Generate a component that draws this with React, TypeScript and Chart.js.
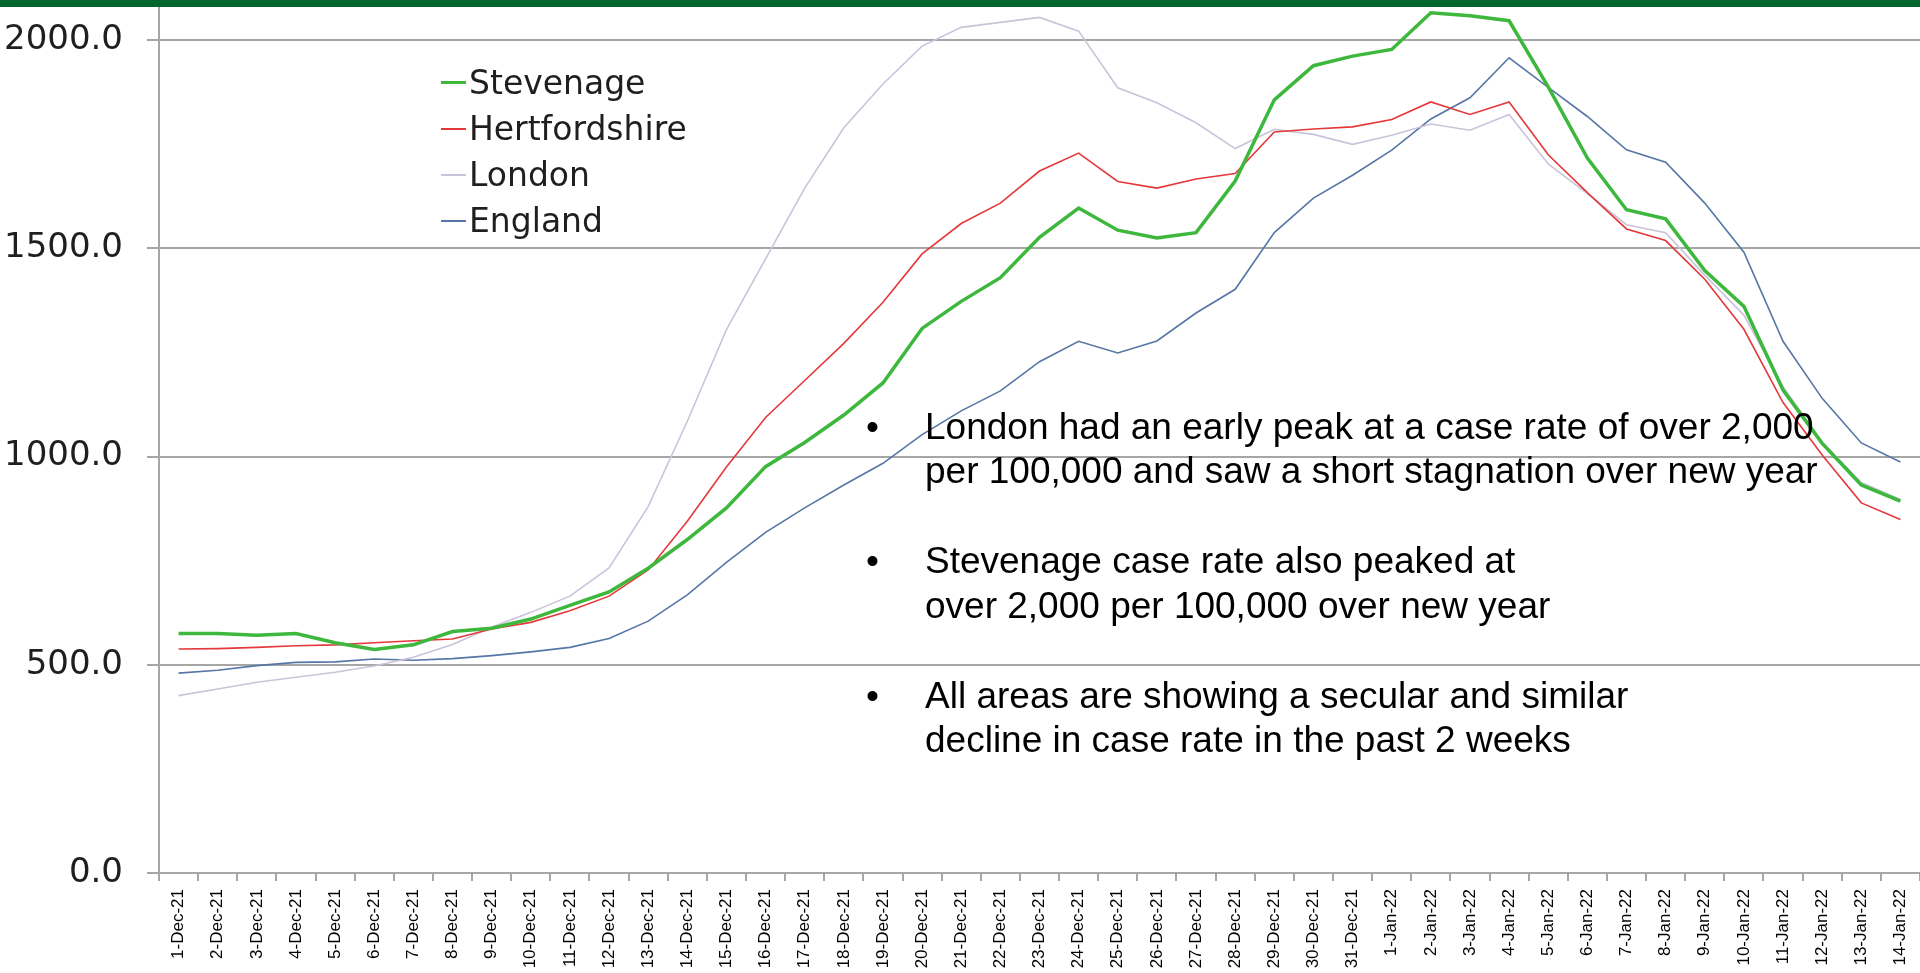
import React, { useEffect, useRef } from "react";
import { Chart, registerables } from "chart.js";

Chart.register(...registerables);

// ---------- data ----------
const DATES = [
  "1-Dec-21", "2-Dec-21", "3-Dec-21", "4-Dec-21", "5-Dec-21", "6-Dec-21", "7-Dec-21",
  "8-Dec-21", "9-Dec-21", "10-Dec-21", "11-Dec-21", "12-Dec-21", "13-Dec-21", "14-Dec-21",
  "15-Dec-21", "16-Dec-21", "17-Dec-21", "18-Dec-21", "19-Dec-21", "20-Dec-21", "21-Dec-21",
  "22-Dec-21", "23-Dec-21", "24-Dec-21", "25-Dec-21", "26-Dec-21", "27-Dec-21", "28-Dec-21",
  "29-Dec-21", "30-Dec-21", "31-Dec-21", "1-Jan-22", "2-Jan-22", "3-Jan-22", "4-Jan-22",
  "5-Jan-22", "6-Jan-22", "7-Jan-22", "8-Jan-22", "9-Jan-22", "10-Jan-22", "11-Jan-22",
  "12-Jan-22", "13-Jan-22", "14-Jan-22",
];

const STEVENAGE = [
  575, 575, 571, 575, 553, 537, 548, 580, 588, 610,
  643, 675, 732, 801, 877, 976, 1034, 1100, 1177, 1308,
  1373, 1430, 1527, 1597, 1544, 1525, 1538, 1662, 1857, 1939,
  1962, 1978, 2066, 2059, 2047, 1888, 1717, 1593, 1571, 1447,
  1361, 1160, 1032, 932, 893,
];

const HERTFORDSHIRE = [
  538, 539, 542, 546, 548, 553, 558, 562, 586, 602,
  630, 665, 728, 845, 975, 1094, 1183, 1272, 1371, 1487,
  1560, 1609, 1686, 1729, 1661, 1645, 1667, 1680, 1780, 1787,
  1792, 1810, 1852, 1822, 1852, 1725, 1634, 1547, 1519, 1426,
  1306, 1130, 1004, 889, 849,
];

const LONDON = [
  426, 442, 458, 470, 482, 497, 518, 549, 590, 626,
  665, 733, 880, 1085, 1305, 1475, 1645, 1790, 1895, 1986,
  2031, 2043, 2055, 2022, 1886, 1850, 1802, 1740, 1786, 1774,
  1750, 1772, 1799, 1784, 1822, 1703, 1632, 1557, 1538, 1436,
  1340, 1168, 1035, 938, 897,
];

const ENGLAND = [
  480, 487, 498, 506, 507, 514, 511, 515, 522, 531,
  542, 563, 605, 668, 746, 818, 877, 932, 984, 1053,
  1110, 1158, 1228, 1277, 1249, 1278, 1345, 1402, 1538, 1621,
  1676, 1736, 1811, 1862, 1958, 1887, 1817, 1737, 1707, 1609,
  1491, 1277, 1140, 1033, 987,
];

const SERIES_NAMES = ["Stevenage", "Hertfordshire", "London", "England"];
const Y_TICKS = [0, 500, 1000, 1500, 2000];

const NOTES = [
  ["London had an early peak at a case rate of over 2,000", "per 100,000 and saw a short stagnation over new year"],
  ["Stevenage case rate also peaked at", "over 2,000 per 100,000 over new year"],
  ["All areas are showing a secular and similar", "decline in case rate in the past 2 weeks"],
];

// ---------- styles ----------
const COLORS = ["#3DB83D", "#E5383B", "#CAC3DA", "#5676A6"];
const WIDTHS = [3.5, 1.6, 1.6, 1.6];
const GRID = "#A6A6A6";

export default function App() {
  const ref = useRef<HTMLCanvasElement | null>(null);

  useEffect(() => {
    document.body.style.margin = "0";
    const values = [STEVENAGE, HERTFORDSHIRE, LONDON, ENGLAND];
    const chart = new Chart(ref.current as HTMLCanvasElement, {
      type: "line",
      data: {
        labels: DATES,
        datasets: SERIES_NAMES.map((name, i) => ({
          label: name,
          data: values[i],
          borderColor: COLORS[i],
          backgroundColor: COLORS[i],
          borderWidth: WIDTHS[i],
          pointRadius: 0,
          tension: 0,
          fill: false,
        })),
      },
      options: {
        responsive: false,
        animation: false,
        devicePixelRatio: 1,
        layout: { padding: { left: 0, right: 0, top: 7, bottom: 0 } },
        plugins: {
          legend: { display: false },
          tooltip: { enabled: false },
        },
        scales: {
          x: {
            type: "category",
            offset: true,
            grid: {
              offset: true,
              drawOnChartArea: false,
              drawTicks: true,
              tickLength: 8,
              color: GRID,
              lineWidth: 2,
            },
            border: { color: GRID, width: 2 },
            ticks: {
              autoSkip: false,
              maxRotation: 90,
              minRotation: 90,
              padding: 8,
              color: "#000000",
              font: { family: "'Liberation Sans', Arial, sans-serif", size: 17 },
            },
            afterFit: (scale: any) => {
              scale.height = 100;
              scale.paddingLeft = 0;
              scale.paddingRight = 0;
            },
          },
          y: {
            min: 0,
            max: 2080,
            grid: {
              color: GRID,
              lineWidth: 2,
              tickLength: 12,
              drawTicks: true,
            },
            border: { color: GRID, width: 2 },
            ticks: {
              padding: 24,
              color: "#1f1f1f",
              font: { family: "'DejaVu Sans', sans-serif", size: 34 },
              callback: (v: any) => Number(v).toFixed(1),
            },
            afterBuildTicks: (scale: any) => {
              scale.ticks = Y_TICKS.map((value) => ({ value }));
            },
            afterFit: (scale: any) => {
              scale.width = 159;
              scale.paddingTop = 0;
              scale.paddingBottom = 0;
            },
          },
        },
      },
    });
    return () => chart.destroy();
  }, []);

  const legendCenters = [82.7, 129, 175, 220.7];
  const noteTops = [404.5, 539, 673.5];

  return (
    <div style={{ position: "relative", width: 1920, height: 973, overflow: "hidden", background: "#ffffff" }}>
      <canvas
        ref={ref}
        width={1920}
        height={973}
        style={{ position: "absolute", left: 0, top: 0, width: 1920, height: 973 }}
      />
      <div style={{ position: "absolute", left: 0, top: 0, width: 1920, height: 7, background: "#00662E" }} />
      {SERIES_NAMES.map((name, i) => (
        <div
          key={name}
          style={{
            position: "absolute",
            left: 441,
            top: legendCenters[i] - 20,
            height: 40,
            display: "flex",
            alignItems: "center",
            fontFamily: "'DejaVu Sans', sans-serif",
            fontSize: 33,
            lineHeight: "40px",
            color: "#1f1f1f",
            whiteSpace: "nowrap",
          }}
        >
          <span style={{ display: "inline-block", width: 25, height: Math.max(2, WIDTHS[i]), background: COLORS[i], marginRight: 3 }} />
          <span>{name}</span>
        </div>
      ))}
      {NOTES.map((lines, i) => (
        <div
          key={i}
          style={{
            position: "absolute",
            left: 0,
            top: noteTops[i],
            fontFamily: "'Liberation Sans', Arial, sans-serif",
            fontSize: 37,
            lineHeight: "44.7px",
            color: "#000",
            whiteSpace: "nowrap",
          }}
        >
          <span style={{ position: "absolute", left: 866, top: 0 }}>•</span>
          <div style={{ position: "absolute", left: 925, top: 0 }}>
            {lines.map((l, j) => (
              <div key={j}>{l}</div>
            ))}
          </div>
        </div>
      ))}
    </div>
  );
}
